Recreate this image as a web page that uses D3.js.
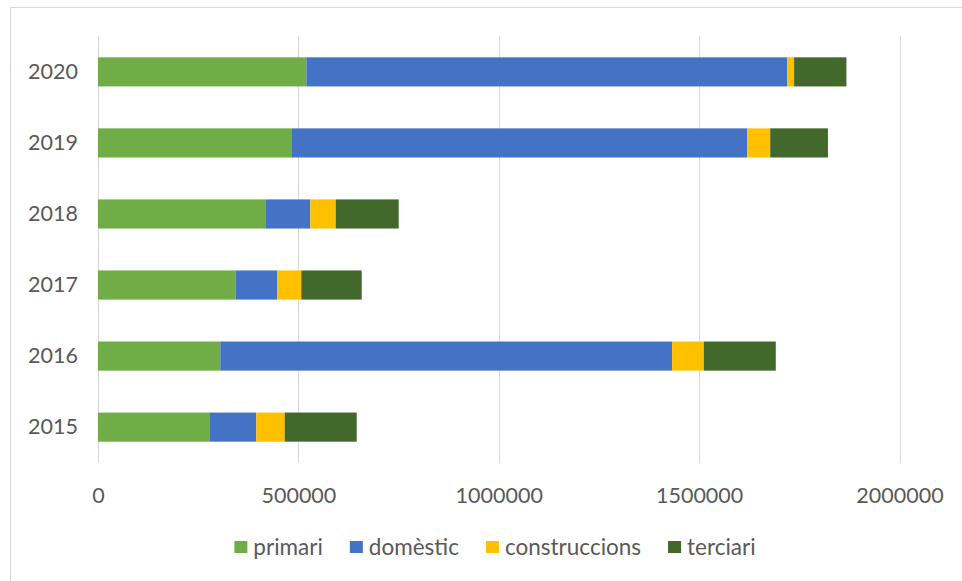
<!DOCTYPE html>
<html>
<head>
<meta charset="utf-8">
<script src="https://cdn.jsdelivr.net/npm/d3@7"></script>
<style>
  html, body { margin: 0; padding: 0; background: #fff; }
  svg { display: block; }
  text { font-family: Lato, "Open Sans", sans-serif; fill: #595959; }
</style>
</head>
<body>
<svg id="chart" width="962" height="581"></svg>
<script>
const years = ["2020", "2019", "2018", "2017", "2016", "2015"];
const seriesNames = ["primari", "domèstic", "construccions", "terciari"];
const primari = [520000, 484000, 417500, 343600, 305200, 279500];
const domestic = [1200000, 1136000, 112300, 103100, 1127300, 115500];
const construccions = [17000, 57400, 63400, 60600, 79100, 70900];
const terciari = [130500, 144000, 157200, 150700, 179700, 179700];
const xTicks = [0, 500000, 1000000, 1500000, 2000000];
const colors = ["#70ad47", "#4472c4", "#ffc000", "#43682b"];

const rows = years.map((y, i) => ({
  year: y,
  "primari": primari[i],
  "domèstic": domestic[i],
  "construccions": construccions[i],
  "terciari": terciari[i]
}));

const svg = d3.select("#chart");

// chart area border
svg.append("rect")
  .attr("x", 10.5).attr("y", 7.5)
  .attr("width", 980).attr("height", 600)
  .attr("fill", "none").attr("stroke", "#d9d9d9").attr("stroke-width", 1);

const x = d3.scaleLinear().domain([0, 2000000]).range([98, 899.5]);
const y = d3.scaleBand().domain(years).range([36, 463]).paddingInner(0.59).paddingOuter(0.3);

// gridlines
svg.append("g").selectAll("line").data(xTicks).join("line")
  .attr("x1", d => Math.round(x(d)) + 0.5).attr("x2", d => Math.round(x(d)) + 0.5)
  .attr("y1", 36).attr("y2", 463)
  .attr("stroke", "#d9d9d9").attr("stroke-width", 1);

// stacked bars
const stack = d3.stack().keys(seriesNames);
const stacked = stack(rows);
const color = d3.scaleOrdinal().domain(seriesNames).range(colors);

svg.append("g").selectAll("g").data(stacked).join("g")
  .attr("fill", d => color(d.key))
  .selectAll("rect").data(d => d).join("rect")
  .attr("x", d => x(d[0]))
  .attr("width", d => x(d[1]) - x(d[0]))
  .attr("y", d => y(d.data.year))
  .attr("height", y.bandwidth());

// x axis labels
const xAxis = d3.axisBottom(x).tickValues(xTicks).tickFormat(d3.format("d")).tickSize(0).tickPadding(0);
const gx = svg.append("g").attr("transform", "translate(0,486)").call(xAxis);
gx.select(".domain").remove();
gx.selectAll("text").attr("font-size", 21.5).attr("fill", "#595959")
  .attr("font-family", "Lato, 'Open Sans', sans-serif").attr("dy", "0.78em");

// y axis labels
const yAxis = d3.axisLeft(y).tickSize(0).tickPadding(20);
const gy = svg.append("g").attr("transform", "translate(98,0)").call(yAxis);
gy.select(".domain").remove();
gy.selectAll("text").attr("font-size", 21.5).attr("fill", "#595959")
  .attr("font-family", "Lato, 'Open Sans', sans-serif");

// legend
const legend = svg.append("g");
const items = legend.selectAll("g").data(seriesNames).join("g");
items.append("rect").attr("width", 13).attr("height", 12).attr("y", -6)
  .attr("fill", d => color(d));
items.append("text").attr("x", 19).attr("dy", "0.35em")
  .attr("font-size", 22.5).text(d => d);
let cx = 0;
items.each(function () {
  const g = d3.select(this);
  g.attr("transform", `translate(${cx},0)`);
  const w = g.select("text").node().getComputedTextLength();
  cx += 19 + w + 27;
});
const total = cx - 27;
legend.attr("transform", `translate(${495 - total / 2},547)`);
</script>
</body>
</html>
